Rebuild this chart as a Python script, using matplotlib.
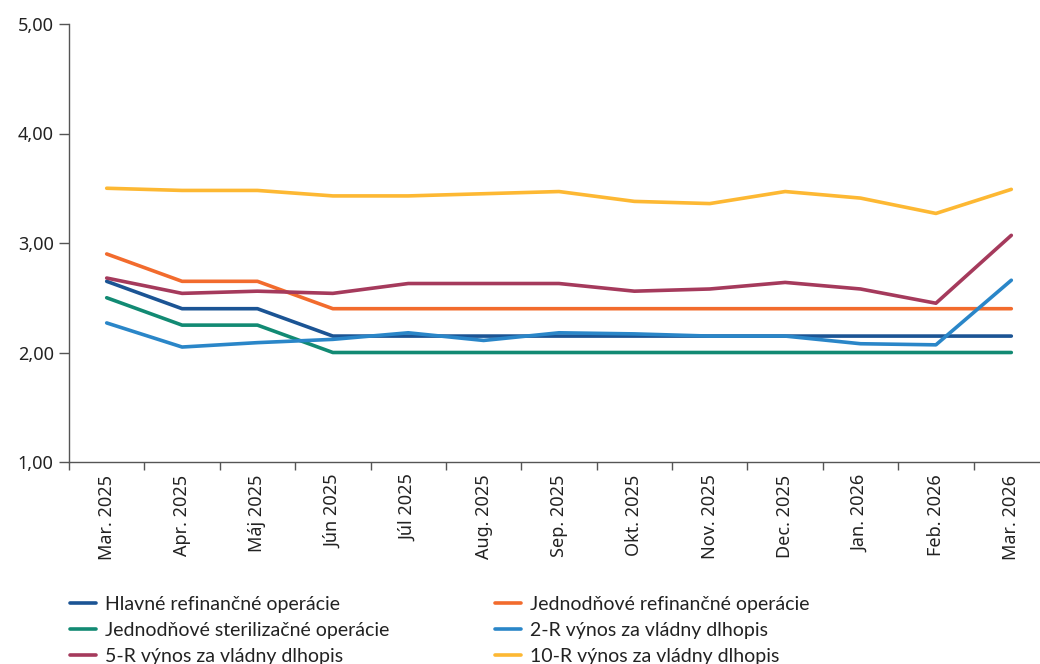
import matplotlib.pyplot as plt
from matplotlib.ticker import FixedLocator, FuncFormatter

months = ['Mar. 2025', 'Apr. 2025', 'Máj 2025', 'Jún 2025', 'Júl 2025', 'Aug. 2025',
          'Sep. 2025', 'Okt. 2025', 'Nov. 2025', 'Dec. 2025', 'Jan. 2026', 'Feb. 2026',
          'Mar. 2026']

# hodnoty odčítané z grafu
hlavne_ref = [2.65, 2.40, 2.40, 2.15, 2.15, 2.15, 2.15, 2.15, 2.15, 2.15, 2.15, 2.15, 2.15]
jedn_ref = [2.90, 2.65, 2.65, 2.40, 2.40, 2.40, 2.40, 2.40, 2.40, 2.40, 2.40, 2.40, 2.40]
jedn_ster = [2.50, 2.25, 2.25, 2.00, 2.00, 2.00, 2.00, 2.00, 2.00, 2.00, 2.00, 2.00, 2.00]
vynos_2r = [2.27, 2.05, 2.09, 2.12, 2.18, 2.11, 2.18, 2.17, 2.15, 2.15, 2.08, 2.07, 2.66]
vynos_5r = [2.68, 2.54, 2.56, 2.54, 2.63, 2.63, 2.63, 2.56, 2.58, 2.64, 2.58, 2.45, 3.07]
vynos_10r = [3.50, 3.48, 3.48, 3.43, 3.43, 3.45, 3.47, 3.38, 3.36, 3.47, 3.41, 3.27, 3.49]

series = [
    ('Hlavné refinančné operácie', hlavne_ref, '#1b5494'),
    ('Jednodňové refinančné operácie', jedn_ref, '#f26b2d'),
    ('Jednodňové sterilizačné operácie', jedn_ster, '#128a73'),
    ('2-R výnos za vládny dlhopis', vynos_2r, '#2a86c8'),
    ('5-R výnos za vládny dlhopis', vynos_5r, '#a53a5c'),
    ('10-R výnos za vládny dlhopis', vynos_10r, '#fdb833'),
]

plt.rcParams['font.family'] = ['Noto Sans', 'DejaVu Sans']

fig = plt.figure(figsize=(10.4, 6.64), dpi=100)
W, H = 1040, 664
ax = fig.add_axes([69 / W, 1 - 462 / H, 980 / W, (462 - 24) / H])

x = list(range(len(months)))
lines = {}
for name, vals, col in series:
    ln, = ax.plot(x, vals, color=col, lw=2.6, solid_capstyle='round',
                  solid_joinstyle='round', label=name)
    lines[name] = ln

ax.set_xlim(-0.5, 12.5)
ax.set_ylim(1, 5)
ax.set_yticks([1, 2, 3, 4, 5])
ax.yaxis.set_major_formatter(FuncFormatter(lambda v, p: f'{v:.2f}'.replace('.', ',')))
ax.set_xticks(x)
ax.set_xticklabels(months, rotation=90)
ax.xaxis.set_minor_locator(FixedLocator([i - 0.5 for i in range(14)]))
ax.tick_params(axis='x', which='major', length=0, pad=9, labelsize=13, colors='#222222')
ax.tick_params(axis='x', which='minor', length=6, width=1, color='#555555')
ax.tick_params(axis='y', length=7, width=1, color='#555555', labelsize=13,
               labelcolor='#222222', pad=4)
for s in ['top', 'right']:
    ax.spines[s].set_visible(False)
for s in ['left', 'bottom']:
    ax.spines[s].set_color('#555555')
    ax.spines[s].set_linewidth(1)

# legenda po riadkoch - dva stĺpce
left_names = ['Hlavné refinančné operácie', 'Jednodňové sterilizačné operácie',
              '5-R výnos za vládny dlhopis']
right_names = ['Jednodňové refinančné operácie', '2-R výnos za vládny dlhopis',
               '10-R výnos za vládny dlhopis']
for names, xa in [(left_names, 70 / W), (right_names, 495 / W)]:
    fig.legend([lines[n] for n in names], names, loc='upper left',
               bbox_to_anchor=(xa, 1 - 596 / H), frameon=False, handlelength=1.35,
               handletextpad=0.45, labelspacing=0.47, borderpad=0, borderaxespad=0,
               prop={'family': 'Lato', 'size': 14}, labelcolor='#222222')

fig.savefig('out.png', dpi=100)
